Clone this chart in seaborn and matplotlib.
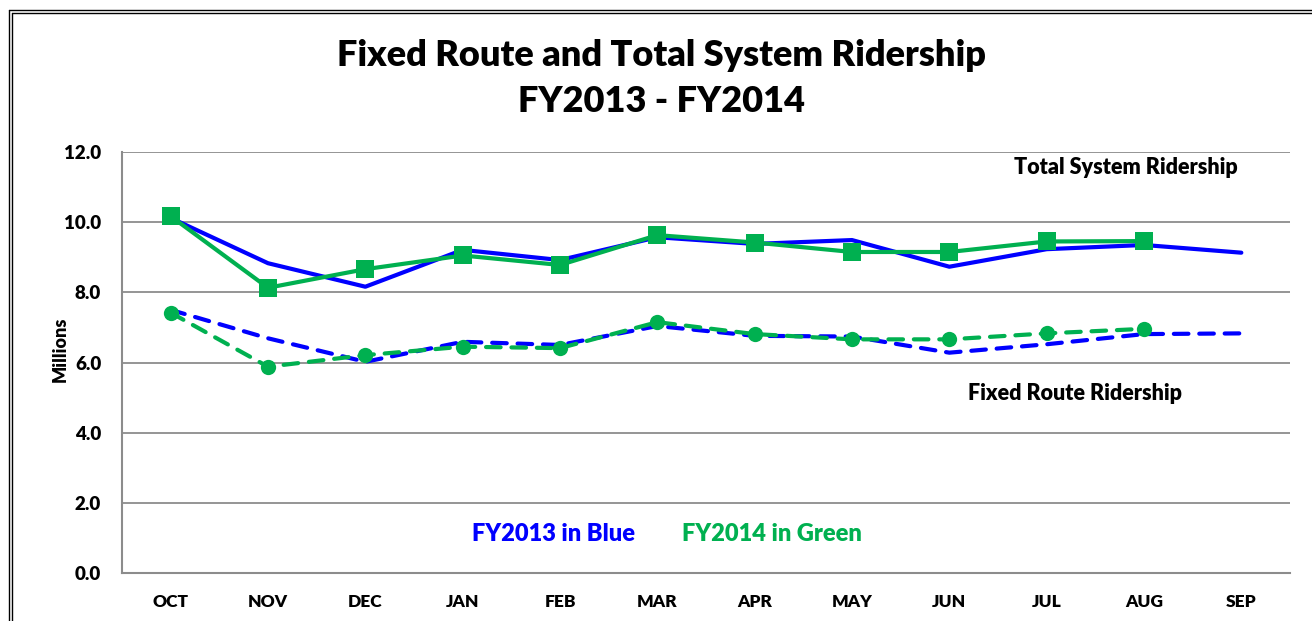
import numpy as np
import matplotlib
matplotlib.use("Agg")
import matplotlib.pyplot as plt
import seaborn as sns
from matplotlib.lines import Line2D

months = ["OCT", "NOV", "DEC", "JAN", "FEB", "MAR", "APR", "MAY", "JUN", "JUL", "AUG", "SEP"]
total_fy2013 = [10.12, 8.83, 8.16, 9.21, 8.92, 9.57, 9.38, 9.49, 8.73, 9.23, 9.35, 9.13]
total_fy2014 = [10.17, 8.13, 8.66, 9.05, 8.78, 9.63, 9.42, 9.15, 9.15, 9.45, 9.46]
fixed_fy2013 = [7.50, 6.69, 6.02, 6.59, 6.50, 7.04, 6.76, 6.74, 6.28, 6.52, 6.81, 6.83]
fixed_fy2014 = [7.42, 5.88, 6.21, 6.45, 6.41, 7.15, 6.81, 6.66, 6.66, 6.83, 6.96]
yticks = [0, 2, 4, 6, 8, 10, 12]

BLUE = "#0000FF"
GREEN = "#00B050"

sns.set_theme(style="white")
plt.rcParams['font.family'] = ['Lato', 'DejaVu Sans']
plt.rcParams['text.color'] = 'black'
plt.rcParams['axes.labelcolor'] = 'black'
WT = "heavy"

W, H = 1312, 621
fig = plt.figure(figsize=(W / 100, H / 100), dpi=100)
ax = fig.add_axes([122 / W, 1 - 573 / H, (1290 - 122) / W, (573 - 152) / H])

x13 = np.arange(len(total_fy2013))
x14 = np.arange(len(total_fy2014))

sns.lineplot(x=x13, y=total_fy2013, ax=ax, color=BLUE, lw=3.0, zorder=3)
sns.lineplot(x=x14, y=total_fy2014, ax=ax, color=GREEN, lw=3.0, marker="s",
             markersize=13, markeredgewidth=0, zorder=4)
sns.lineplot(x=x13, y=fixed_fy2013, ax=ax, color=BLUE, lw=3.0, zorder=3)
ax.lines[-1].set_dashes([3.5, 2.6])
ax.lines[-1].set_dash_capstyle("round")
sns.lineplot(x=x14, y=fixed_fy2014, ax=ax, color=GREEN, lw=3.0, marker="o",
             markersize=11, markeredgewidth=0, zorder=4)
ax.lines[-1].set_dashes([3.5, 2.6])
ax.lines[-1].set_dash_capstyle("round")

ax.set_xlim(-0.5, len(months) - 0.5)
ax.set_ylim(0, 12)
ax.set_xticks(np.arange(len(months)))
ax.set_xticklabels(months, fontsize=12.5, fontweight=WT)
ax.set_yticks(yticks)
ax.set_yticklabels([f"{v:.1f}" for v in yticks], fontsize=13.5, fontweight=WT)
ax.tick_params(axis="both", length=0, colors="black")
ax.tick_params(axis="x", pad=15)
ax.tick_params(axis="y", pad=15)
ax.yaxis.grid(True, color="#8c8c8c", lw=1.3)
ax.set_axisbelow(True)
for s in ["top", "right"]:
    ax.spines[s].set_visible(False)
for s in ["left", "bottom"]:
    ax.spines[s].set_color("#8c8c8c")
    ax.spines[s].set_linewidth(1.5)
ax.set_ylabel("Millions", fontsize=13, fontweight=WT)
ax.yaxis.set_label_coords((69 - 122) / 1168, (573 - 349) / 421)

# Title
fig.text(662 / W, 1 - 55 / H, "Fixed Route and Total System Ridership", ha="center", va="center",
         fontsize=26, fontweight=WT)
fig.text(662 / W, 1 - 101 / H, "FY2013 - FY2014", ha="center", va="center",
         fontsize=26, fontweight=WT)

# Annotations
fig.text(1126 / W, 1 - 167 / H, "Total System Ridership", ha="center", va="center",
         fontsize=15.5, fontweight=WT)
fig.text(1075 / W, 1 - 394 / H, "Fixed Route Ridership", ha="center", va="center",
         fontsize=15.5, fontweight=WT)
fig.text(554 / W, 1 - 534 / H, "FY2013 in Blue", ha="center", va="center",
         fontsize=17, fontweight=WT, color=BLUE)
fig.text(772 / W, 1 - 534 / H, "FY2014 in Green", ha="center", va="center",
         fontsize=17, fontweight=WT, color=GREEN)

# Double border frame
for (x0, y0) in [(8.5, 9.5), (11.5, 12.5)]:
    fig.add_artist(Line2D([x0 / W, x0 / W], [0, 1 - y0 / H], color="black", lw=1.0,
                          transform=fig.transFigure))
    fig.add_artist(Line2D([x0 / W, 1.01], [1 - y0 / H, 1 - y0 / H], color="black", lw=1.0,
                          transform=fig.transFigure))

fig.savefig("out.png", dpi=100)
